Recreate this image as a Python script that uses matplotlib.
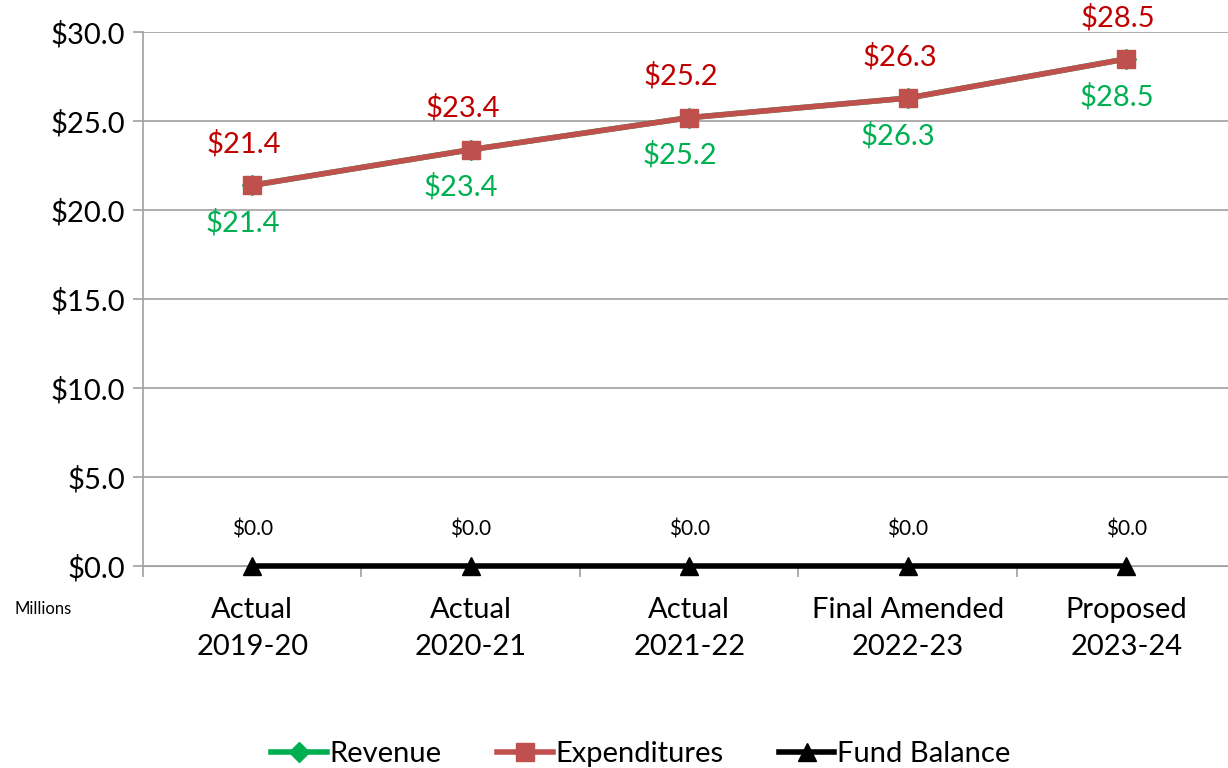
import numpy as np
import matplotlib
matplotlib.use("Agg")
import matplotlib.pyplot as plt
from matplotlib.ticker import MultipleLocator, FixedLocator

plt.rcParams['font.family'] = ['Lato', 'DejaVu Sans']

categories = ['Actual\n2019-20', 'Actual\n2020-21', 'Actual\n2021-22',
              'Final Amended\n2022-23', 'Proposed\n2023-24']
revenue = [21.4, 23.4, 25.2, 26.3, 28.5]
expenditures = [21.4, 23.4, 25.2, 26.3, 28.5]
fund_balance = [0.0, 0.0, 0.0, 0.0, 0.0]

GREEN = '#00B050'
RED_LINE = '#C0504D'
RED_TXT = '#C00000'

fig = plt.figure(figsize=(12.28, 7.68), dpi=100)
ax = fig.add_axes([0.1164, 0.263, 0.8897, 0.695])
x = np.arange(len(categories))

ax.plot(x, revenue, color=GREEN, lw=4, marker='D', ms=10, label='Revenue', zorder=3)
ax.plot(x, expenditures, color=RED_LINE, lw=4, marker='s', ms=13, label='Expenditures', zorder=4)
ax.plot(x, fund_balance, color='black', lw=4, marker='^', ms=13, label='Fund Balance',
        zorder=5, clip_on=False)

for xi, v in zip(x, expenditures):
    ax.annotate(f'${v:.1f}', (xi, v), xytext=(-6, 30), textcoords='offset points',
                ha='center', va='center', color=RED_TXT, fontsize=21)
for xi, v in zip(x, revenue):
    ax.annotate(f'${v:.1f}', (xi, v), xytext=(-7, -27), textcoords='offset points',
                ha='center', va='center', color=GREEN, fontsize=21)
for xi, v in zip(x, fund_balance):
    ax.annotate(f'${v:.1f}', (xi, v), xytext=(0, 26), textcoords='offset points',
                ha='center', va='center', color='black', fontsize=15)

ax.set_xlim(-0.5, len(categories) - 0.5)
ax.set_ylim(0, 30)
ax.yaxis.set_major_locator(MultipleLocator(5))
ax.yaxis.set_major_formatter(lambda v, p: f'${v:.1f}')
ax.grid(axis='y', color='#A0A0A0', lw=1.2)
ax.set_axisbelow(True)

ax.set_xticks(x)
ax.set_xticklabels(categories, fontsize=21, linespacing=1.55)
ax.xaxis.set_minor_locator(FixedLocator(np.arange(-0.5, len(categories), 1)))
ax.tick_params(axis='x', which='major', length=0, pad=22)
ax.tick_params(axis='x', which='minor', length=8, color='#A0A0A0', width=1.2)
ax.tick_params(axis='y', length=7, color='#A0A0A0', width=1.2, labelsize=21, pad=6)

for s in ['top', 'right']:
    ax.spines[s].set_visible(False)
ax.spines['left'].set_color('#A0A0A0')
ax.spines['left'].set_linewidth(1.2)
ax.spines['bottom'].set_color('#A0A0A0')

fig.text(0.012, 0.207, 'Millions', fontsize=12, va='center', ha='left')

fig.legend(loc='lower center', bbox_to_anchor=(0.522, -0.033), ncol=3, frameon=False,
           fontsize=21, handlelength=1.9, handletextpad=0.1, columnspacing=1.9,
           markerscale=1.0)

fig.savefig('out.png', dpi=100)
